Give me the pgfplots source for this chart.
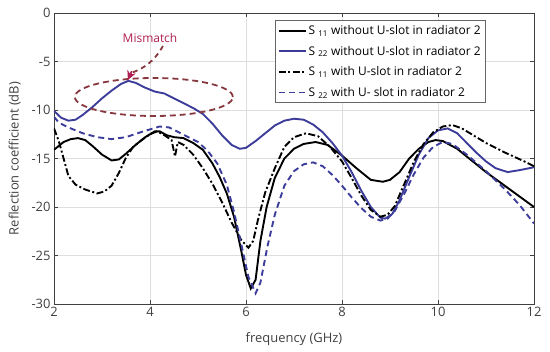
\documentclass[border=0pt]{standalone}
\usepackage{pgfplots}
\pgfplotsset{compat=1.18}
\usepackage{fontspec}
\setmainfont{Open Sans}
\usetikzlibrary{arrows.meta}
\definecolor{myblue}{RGB}{60,60,155}
\definecolor{ellc}{RGB}{135,55,62}
\definecolor{mism}{RGB}{175,30,80}
\definecolor{tickc}{RGB}{64,64,64}
\begin{document}
\begin{tikzpicture}
\begin{axis}[
 name=ax, scale only axis, width=480bp, height=291bp,
 xmin=2,xmax=12,ymin=-30,ymax=0,
 xtick={2,4,...,12}, ytick={-30,-25,...,0},
 grid=major, major grid style={draw=black!13, line width=0.5pt},
 tick align=inside, major tick length=4bp,
 axis line style={black!75, line width=0.6pt},
 tick style={black!75, line width=0.6pt},
 ticklabel style={font=\fontsize{13}{15}\selectfont, text=tickc},
 /pgf/number format/assume math mode=true,
 xlabel={frequency (GHz)}, ylabel={Reflection coefficient (dB)},
 label style={font=\fontsize{13}{15}\selectfont, text=tickc},
 xlabel style={yshift=-9bp},
 ylabel style={yshift=4bp},
 legend style={at={(0.9,0.975)}, anchor=north east, font=\fontsize{12}{14}\selectfont, draw=black!60, line width=0.6pt, inner sep=3pt, row sep=6pt},
 legend cell align=left,
 legend image code/.code={\draw[#1] (0cm,0cm) -- (0.95cm,0cm);},
]
\addplot[black, line width=1.9pt] coordinates {
(2.0,-14.1)(2.1,-13.7)(2.2,-13.3)(2.35,-13.0)(2.5,-12.9)(2.65,-13.1)(2.8,-13.7)(3.0,-14.6)(3.2,-15.2)(3.35,-15.1)(3.5,-14.5)(3.7,-13.6)(3.9,-12.8)(4.1,-12.2)(4.2,-12.2)(4.35,-12.6)(4.5,-12.8)(4.7,-12.9)(4.9,-13.4)(5.1,-14.1)(5.3,-15.5)(5.45,-16.9)(5.6,-18.6)(5.75,-21.0)(5.9,-24.5)(6.0,-27.0)(6.1,-28.4)(6.2,-27.5)(6.3,-23.5)(6.43,-20.0)(6.6,-17.0)(6.8,-15.0)(7.0,-14.0)(7.2,-13.5)(7.45,-13.3)(7.7,-13.6)(8.0,-14.7)(8.3,-16.0)(8.6,-17.2)(8.85,-17.4)(9.0,-17.2)(9.2,-16.4)(9.4,-15.0)(9.6,-14.0)(9.8,-13.3)(9.95,-13.1)(10.1,-13.2)(10.4,-14.0)(10.7,-15.2)(11.0,-16.4)(11.5,-18.2)(12.0,-20.0)};
\addlegendentry{S \textsubscript{11} without U-slot in radiator 2}
\addplot[myblue, line width=1.9pt] coordinates {
(2.0,-10.1)(2.15,-10.8)(2.3,-11.1)(2.45,-11.0)(2.6,-10.5)(2.8,-9.7)(3.0,-8.8)(3.2,-8.0)(3.4,-7.3)(3.55,-7.0)(3.7,-7.2)(3.9,-7.7)(4.1,-8.1)(4.3,-8.3)(4.5,-8.8)(4.7,-9.3)(4.9,-9.8)(5.1,-10.4)(5.3,-11.4)(5.5,-12.6)(5.7,-13.6)(5.87,-14.0)(6.0,-13.9)(6.2,-13.2)(6.4,-12.4)(6.6,-11.6)(6.8,-11.1)(7.0,-10.9)(7.2,-11.0)(7.4,-11.5)(7.6,-12.3)(7.8,-13.4)(8.0,-14.7)(8.2,-16.4)(8.4,-18.3)(8.6,-20.0)(8.8,-21.1)(8.9,-21.2)(9.05,-20.7)(9.2,-19.3)(9.4,-16.9)(9.6,-14.6)(9.8,-12.9)(10.0,-12.1)(10.2,-11.9)(10.4,-12.4)(10.6,-13.4)(10.8,-14.4)(11.0,-15.3)(11.2,-16.0)(11.45,-16.4)(11.7,-16.2)(12.0,-15.9)};
\addlegendentry{S \textsubscript{22}\ without U-slot in radiator 2}
\addplot[black, line width=1.9pt, dash pattern=on 7pt off 2.5pt on 2pt off 2.5pt] coordinates {
(2.0,-11.9)(2.1,-13.2)(2.2,-15.0)(2.3,-16.8)(2.45,-17.7)(2.65,-18.2)(2.9,-18.6)(3.05,-18.4)(3.2,-17.8)(3.35,-16.5)(3.5,-14.9)(3.65,-13.8)(3.8,-13.2)(4.0,-12.5)(4.15,-12.2)(4.3,-12.6)(4.45,-13.1)(4.52,-14.8)(4.58,-13.3)(4.7,-13.6)(4.9,-14.6)(5.1,-16.0)(5.3,-17.6)(5.5,-19.5)(5.7,-21.6)(5.9,-23.4)(6.05,-24.2)(6.15,-23.5)(6.25,-21.3)(6.4,-18.5)(6.6,-16.0)(6.8,-13.8)(7.0,-12.8)(7.25,-12.4)(7.5,-12.7)(7.75,-13.8)(8.0,-15.3)(8.2,-17.0)(8.4,-18.8)(8.6,-20.3)(8.8,-21.0)(8.95,-20.8)(9.1,-19.9)(9.3,-17.6)(9.5,-15.3)(9.7,-13.5)(9.9,-12.3)(10.1,-11.7)(10.3,-11.55)(10.5,-11.9)(10.8,-12.8)(11.0,-13.4)(11.4,-14.4)(11.8,-15.3)(12.0,-15.8)};
\addlegendentry{S \textsubscript{11} with U-slot in radiator 2}
\addplot[myblue, line width=1.9pt, dash pattern=on 6pt off 4pt] coordinates {
(2.0,-10.7)(2.1,-11.3)(2.3,-11.8)(2.6,-12.4)(2.9,-12.8)(3.2,-13.0)(3.5,-12.8)(3.8,-12.3)(4.0,-12.0)(4.2,-11.7)(4.4,-11.8)(4.6,-12.3)(4.8,-12.8)(5.0,-13.3)(5.2,-14.2)(5.4,-15.5)(5.6,-17.7)(5.75,-20.5)(5.9,-23.8)(6.05,-27.2)(6.2,-28.9)(6.3,-27.8)(6.45,-24.0)(6.6,-20.8)(6.8,-17.8)(7.0,-16.3)(7.2,-15.6)(7.4,-15.4)(7.6,-15.8)(7.8,-16.7)(8.0,-17.8)(8.2,-19.0)(8.4,-20.1)(8.6,-21.0)(8.8,-21.4)(8.95,-21.2)(9.1,-20.4)(9.3,-18.6)(9.5,-16.6)(9.7,-14.9)(9.9,-13.8)(10.1,-13.3)(10.3,-13.5)(10.6,-14.6)(11.0,-16.3)(11.4,-18.2)(11.7,-19.8)(12.0,-21.7)};
\addlegendentry{S \textsubscript{22} with U- slot in radiator 2}
\draw[ellc, line width=1.8pt, dash pattern=on 6pt off 4pt] (axis cs:4.08,-8.66) ellipse [x radius=79bp, y radius=19bp];
\draw[ellc, line width=1.8pt, dash pattern=on 5pt off 4pt] (axis cs:4.27,-3.4) to[bend left=20] (axis cs:3.6,-6.2);
\draw[mism, line width=1.8pt, -{Stealth[length=9pt,width=9pt]}] (axis cs:3.62,-6.0) -- (axis cs:3.54,-6.9);
\node[mism, font=\fontsize{12}{14}\selectfont] at (axis cs:4.0,-2.6) {Mismatch};
\end{axis}
\pgfresetboundingbox
\path[use as bounding box] ([shift={(-54bp,-48bp)}]ax.south west) rectangle ([shift={(16bp,13bp)}]ax.north east);
\end{tikzpicture}
\end{document}
